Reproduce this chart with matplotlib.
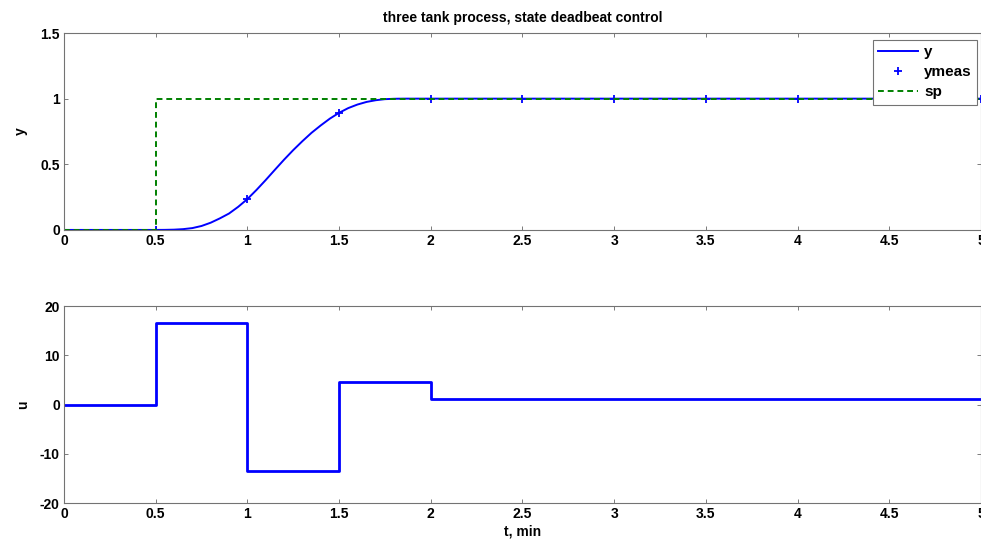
import matplotlib
matplotlib.use("Agg")
import matplotlib.pyplot as plt

plt.rcParams['font.family'] = ['Liberation Sans', 'DejaVu Sans']
plt.rcParams['font.weight'] = 'bold'
plt.rcParams['axes.labelweight'] = 'bold'
plt.rcParams['axes.unicode_minus'] = False
plt.rcParams['font.size'] = 10

# output y
t_y = [0, 0.5, 0.55, 0.6, 0.65, 0.7, 0.75, 0.8, 0.85, 0.9, 0.95, 1.0,
       1.05, 1.1, 1.15, 1.2, 1.25, 1.3, 1.35, 1.4, 1.45, 1.5, 1.55, 1.6,
       1.65, 1.7, 1.75, 1.8, 1.85, 5.0]
y = [0, 0, 0.0005, 0.002, 0.006, 0.014, 0.030, 0.055, 0.088, 0.125, 0.176, 0.235,
     0.305, 0.380, 0.458, 0.535, 0.608, 0.676, 0.740, 0.796, 0.848, 0.892, 0.928, 0.955,
     0.975, 0.988, 0.996, 0.999, 1.0, 1.0]

# sampled measurements
t_meas = [0, 0.5, 1.0, 1.5, 2.0, 2.5, 3.0, 3.5, 4.0, 4.5, 5.0]
ymeas = [0, 0, 0.235, 0.892, 1, 1, 1, 1, 1, 1, 1]

# setpoint
t_sp = [0, 0.5, 5.0]
sp = [0, 1, 1]

# controller output
t_u = [0, 0.5, 1.0, 1.5, 2.0, 5.0]
u = [0, 16.5, -13.4, 4.6, 1.1, 1.1]

xticks = [0, 0.5, 1, 1.5, 2, 2.5, 3, 3.5, 4, 4.5, 5]
xlabels = ['0', '0.5', '1', '1.5', '2', '2.5', '3', '3.5', '4', '4.5', '5']

fig = plt.figure(figsize=(9.81, 5.41), dpi=100)
ax1 = fig.add_axes([0.0652, 0.575, 0.9348, 0.364])
ax2 = fig.add_axes([0.0652, 0.070, 0.9348, 0.364])

ax1.plot(t_y, y, color='#0000ff', lw=1.4, label='y')
ax1.plot(t_meas, ymeas, ls='none', marker='+', ms=6, mew=1.3, color='#0000ff', label='ymeas')
ax1.plot(t_sp, sp, color='#008000', lw=1.4, ls=(0, (3, 2)), drawstyle='steps-post', label='sp')
ax1.set_ylim(0, 1.5)
ax1.set_yticks([0, 0.5, 1, 1.5])
ax1.set_yticklabels(['0', '0.5', '1', '1.5'])
ax1.set_ylabel('y', labelpad=9)
ax1.set_title('three tank process, state deadbeat control', fontsize=10, fontweight='bold', pad=8)
leg = ax1.legend(loc='upper right', bbox_to_anchor=(0.9957, 0.965), borderaxespad=0,
                 fancybox=False, framealpha=1, edgecolor='0.45', fontsize=11,
                 handlelength=2.6, borderpad=0.35, labelspacing=0.4, handletextpad=0.4)
leg.get_frame().set_linewidth(0.8)

ax2.plot(t_u, u, color='#0000ff', lw=2, drawstyle='steps-post')
ax2.set_ylim(-20, 20)
ax2.set_yticks([-20, -10, 0, 10, 20])
ax2.set_ylabel('u', labelpad=7)
ax2.set_xlabel('t, min', labelpad=2)

for ax in (ax1, ax2):
    ax.set_xlim(0, 5)
    ax.set_xticks(xticks)
    ax.set_xticklabels(xlabels)
    ax.tick_params(direction='in', length=3, width=0.6, color='0.4',
                   top=True, right=True, pad=3)
    for s in ax.spines.values():
        s.set_color('0.45')
        s.set_linewidth(0.8)

fig.savefig('out.png', dpi=100)
